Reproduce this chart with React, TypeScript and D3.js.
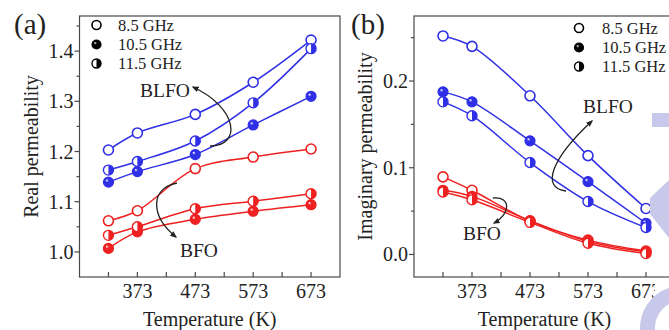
import React from "react";
import * as d3 from "d3";

const temps = [323, 373, 473, 573, 673];
const xTicks = [373, 473, 573, 673];
const xMinor = [323, 423, 523, 623];

// Panel (a) real permeability
const aBLFO85 = [1.203, 1.237, 1.274, 1.338, 1.422];
const aBLFO105 = [1.139, 1.16, 1.194, 1.253, 1.31];
const aBLFO115 = [1.163, 1.18, 1.221, 1.297, 1.405];
const aBFO85 = [1.062, 1.082, 1.166, 1.189, 1.205];
const aBFO105 = [1.007, 1.04, 1.065, 1.081, 1.094];
const aBFO115 = [1.033, 1.05, 1.086, 1.101, 1.116];
const aYTicks = [1.0, 1.1, 1.2, 1.3, 1.4];
const aYMinor = [1.05, 1.15, 1.25, 1.35, 1.45];

// Panel (b) imaginary permeability
const bBLFO85 = [0.252, 0.24, 0.183, 0.114, 0.053];
const bBLFO105 = [0.1875, 0.176, 0.131, 0.084, 0.036];
const bBLFO115 = [0.176, 0.16, 0.106, 0.061, 0.031];
const bBFO85 = [0.0895, 0.074, 0.0384, 0.0165, 0.004];
const bBFO105 = [0.074, 0.067, 0.039, 0.015, 0.003];
const bBFO115 = [0.072, 0.063, 0.037, 0.013, 0.001];
const bYTicks = [0.0, 0.1, 0.2];
const bYMinor = [0.05, 0.15, 0.25];

const legendLabels = ["8.5 GHz", "10.5 GHz", "11.5 GHz"];
const markerTypes = ["open", "ball", "half"];

const BLUE = "#2f2fe6";
const RED = "#ee2020";
const AXIS = "#4a4a4a";
const FONT = "'Liberation Serif', 'Times New Roman', serif";

type MT = "open" | "ball" | "half";

function Marker({ x, y, type, color, r = 5, gid }: { x: number; y: number; type: MT; color: string; r?: number; gid: string }) {
  if (type === "open") {
    return <circle cx={x} cy={y} r={r} fill="#fff" stroke={color} strokeWidth={1.6} />;
  }
  if (type === "ball") {
    return <circle cx={x} cy={y} r={r} fill={`url(#${gid})`} stroke={color} strokeWidth={1.2} />;
  }
  return (
    <g>
      <circle cx={x} cy={y} r={r} fill="#fff" />
      <path d={`M${x},${y - r} A${r},${r} 0 0 1 ${x},${y + r} Z`} fill={color} />
      <circle cx={x} cy={y} r={r} fill="none" stroke={color} strokeWidth={1.4} />
    </g>
  );
}

function Panel({
  x0, x1, yScale, series, yTicks, yMinor, fmt, label, labelX, yTitle, legendX, legendText, legendRows,
}: any) {
  const top = 16, bottom = 277;
  const xs = d3.scaleLinear().domain([273, 723]).range([x0, x1]);
  const line = (vals: number[]) =>
    d3.line<number>().x((_, i) => xs(temps[i])).y((v) => yScale(v)).curve(d3.curveCatmullRom.alpha(0.5))(vals) || "";
  return (
    <g>
      <rect x={x0} y={top} width={x1 - x0} height={bottom - top} fill="none" stroke={AXIS} strokeWidth={1.2} />
      {[...xTicks, ...xMinor].map((t) => (
        <line key={"xt" + t} x1={xs(t)} x2={xs(t)} y1={bottom} y2={bottom - 5} stroke={AXIS} strokeWidth={1.2} />
      ))}
      {xTicks.map((t) => (
        <text key={"xl" + t} x={xs(t)} y={298} textAnchor="middle" fontSize={20} fontFamily={FONT} fill="#222">{t}</text>
      ))}
      {yTicks.map((t: number) => (
        <g key={"yt" + t}>
          <line x1={x0 - 5} x2={x0} y1={yScale(t)} y2={yScale(t)} stroke={AXIS} strokeWidth={1.2} />
          <text x={x0 - 6} y={yScale(t)} dy="0.35em" textAnchor="end" fontSize={20} fontFamily={FONT} fill="#222">{fmt(t)}</text>
        </g>
      ))}
      {yMinor.map((t: number) => (
        <line key={"ym" + t} x1={x0 - 3} x2={x0} y1={yScale(t)} y2={yScale(t)} stroke={AXIS} strokeWidth={1.2} />
      ))}
      <text x={(x0 + x1) / 2} y={326} textAnchor="middle" fontSize={20} fontFamily={FONT} fill="#222">Temperature (K)</text>
      <text transform={`translate(${x0 - 42},${(top + bottom) / 2}) rotate(-90)`} textAnchor="middle" fontSize={20} fontFamily={FONT} fill="#222">{yTitle}</text>
      <text x={labelX} y={34} fontSize={29} fontFamily={FONT} fill="#222">{label}</text>
      {series.map((s: any, i: number) => (
        <path key={"l" + i} d={line(s.vals)} fill="none" stroke={s.color} strokeWidth={1.5} />
      ))}
      {series.map((s: any, i: number) =>
        s.vals.map((v: number, j: number) => (
          <Marker key={`m${i}-${j}`} x={xs(temps[j])} y={yScale(v)} type={s.type} color={s.color} gid={s.color === BLUE ? "gBlue" : "gRed"} />
        ))
      )}
      {legendLabels.map((lab, i) => (
        <g key={"lg" + i}>
          <Marker x={legendX} y={legendRows[i]} type={markerTypes[i] as MT} color="#000" r={4.5} gid="gBlack" />
          <text x={legendText} y={legendRows[i]} dy="0.35em" fontSize={16.5} fontFamily={FONT} fill="#222">{lab}</text>
        </g>
      ))}
    </g>
  );
}

function Arrow({ d }: { d: string }) {
  return <path d={d} fill="none" stroke="#222" strokeWidth={1.3} markerEnd="url(#arrowHead)" />;
}

export default function App() {
  const yA = d3.scaleLinear().domain([0.95, 1.47]).range([277, 16]);
  const yB = d3.scaleLinear().domain([-0.026, 0.275]).range([277, 16]);
  const seriesA = [
    { vals: aBLFO85, color: BLUE, type: "open" },
    { vals: aBLFO105, color: BLUE, type: "ball" },
    { vals: aBLFO115, color: BLUE, type: "half" },
    { vals: aBFO85, color: RED, type: "open" },
    { vals: aBFO105, color: RED, type: "ball" },
    { vals: aBFO115, color: RED, type: "half" },
  ];
  const seriesB = [
    { vals: bBLFO85, color: BLUE, type: "open" },
    { vals: bBLFO105, color: BLUE, type: "ball" },
    { vals: bBLFO115, color: BLUE, type: "half" },
    { vals: bBFO85, color: RED, type: "open" },
    { vals: bBFO105, color: RED, type: "ball" },
    { vals: bBFO115, color: RED, type: "half" },
  ];
  const grad = (id: string, c: string) => (
    <radialGradient id={id} cx="0.5" cy="0.5" r="0.6" fx="0.32" fy="0.3">
      <stop offset="0%" stopColor="#fff" />
      <stop offset="30%" stopColor={c} />
      <stop offset="100%" stopColor={c} />
    </radialGradient>
  );
  return (
    <svg width={669} height={330} style={{ position: "absolute", left: 0, top: 0, background: "#fff" }}>
      <defs>
        {grad("gBlue", BLUE)}
        {grad("gRed", RED)}
        {grad("gBlack", "#000")}
        <marker id="arrowHead" viewBox="0 0 10 10" refX="8" refY="5" markerWidth="7" markerHeight="7" orient="auto-start-reverse" markerUnits="userSpaceOnUse">
          <path d="M0,1 L10,5 L0,9 Z" fill="#222" />
        </marker>
      </defs>
      <rect width={669} height={330} fill="#fff" />
      <Panel x0={79.5} x1={340} yScale={yA} series={seriesA} yTicks={aYTicks} yMinor={aYMinor} fmt={(t: number) => t.toFixed(1)}
        label="(a)" labelX={14} yTitle="Real permeability" legendX={96.5} legendText={118} legendRows={[25, 44.5, 63.5]} />
      <Panel x0={414} x1={675} yScale={yB} series={seriesB} yTicks={bYTicks} yMinor={bYMinor} fmt={(t: number) => t.toFixed(1)}
        label="(b)" labelX={351} yTitle="Imaginary permeability" legendX={579} legendText={602} legendRows={[28, 47.5, 66.5]} />
      {/* watermark overlay */}
      <rect x={655} y={280} width={14} height={22} fill="#fff" />
      <g fill="#c8c8ea">
        <rect x={652} y={113} width={17} height={14} />
        <path d="M650,198 L669,180 L669,238 L650,214 Z" />
        <path d="M640,330 A42,42 0 0 1 669,288 L669,304 A28,28 0 0 0 655,330 Z" />
      </g>
      <text x={140} y={97} fontSize={19.5} fontFamily={FONT} fill="#222">BLFO</text>
      <Arrow d="M210,146 C242,146 238,108 193,87" />
      <text x={180} y={257} fontSize={19.5} fontFamily={FONT} fill="#222">BFO</text>
      <Arrow d="M177,183 C150,188 150,216 176,237" />
      <text x={583} y={113} fontSize={19.5} fontFamily={FONT} fill="#222">BLFO</text>
      <Arrow d="M566,191 C540,188 552,158 592,121" />
      <text x={463} y={240} fontSize={19.5} fontFamily={FONT} fill="#222">BFO</text>
      <Arrow d="M493,198 C512,196 510,215 494,223" />
    </svg>
  );
}
